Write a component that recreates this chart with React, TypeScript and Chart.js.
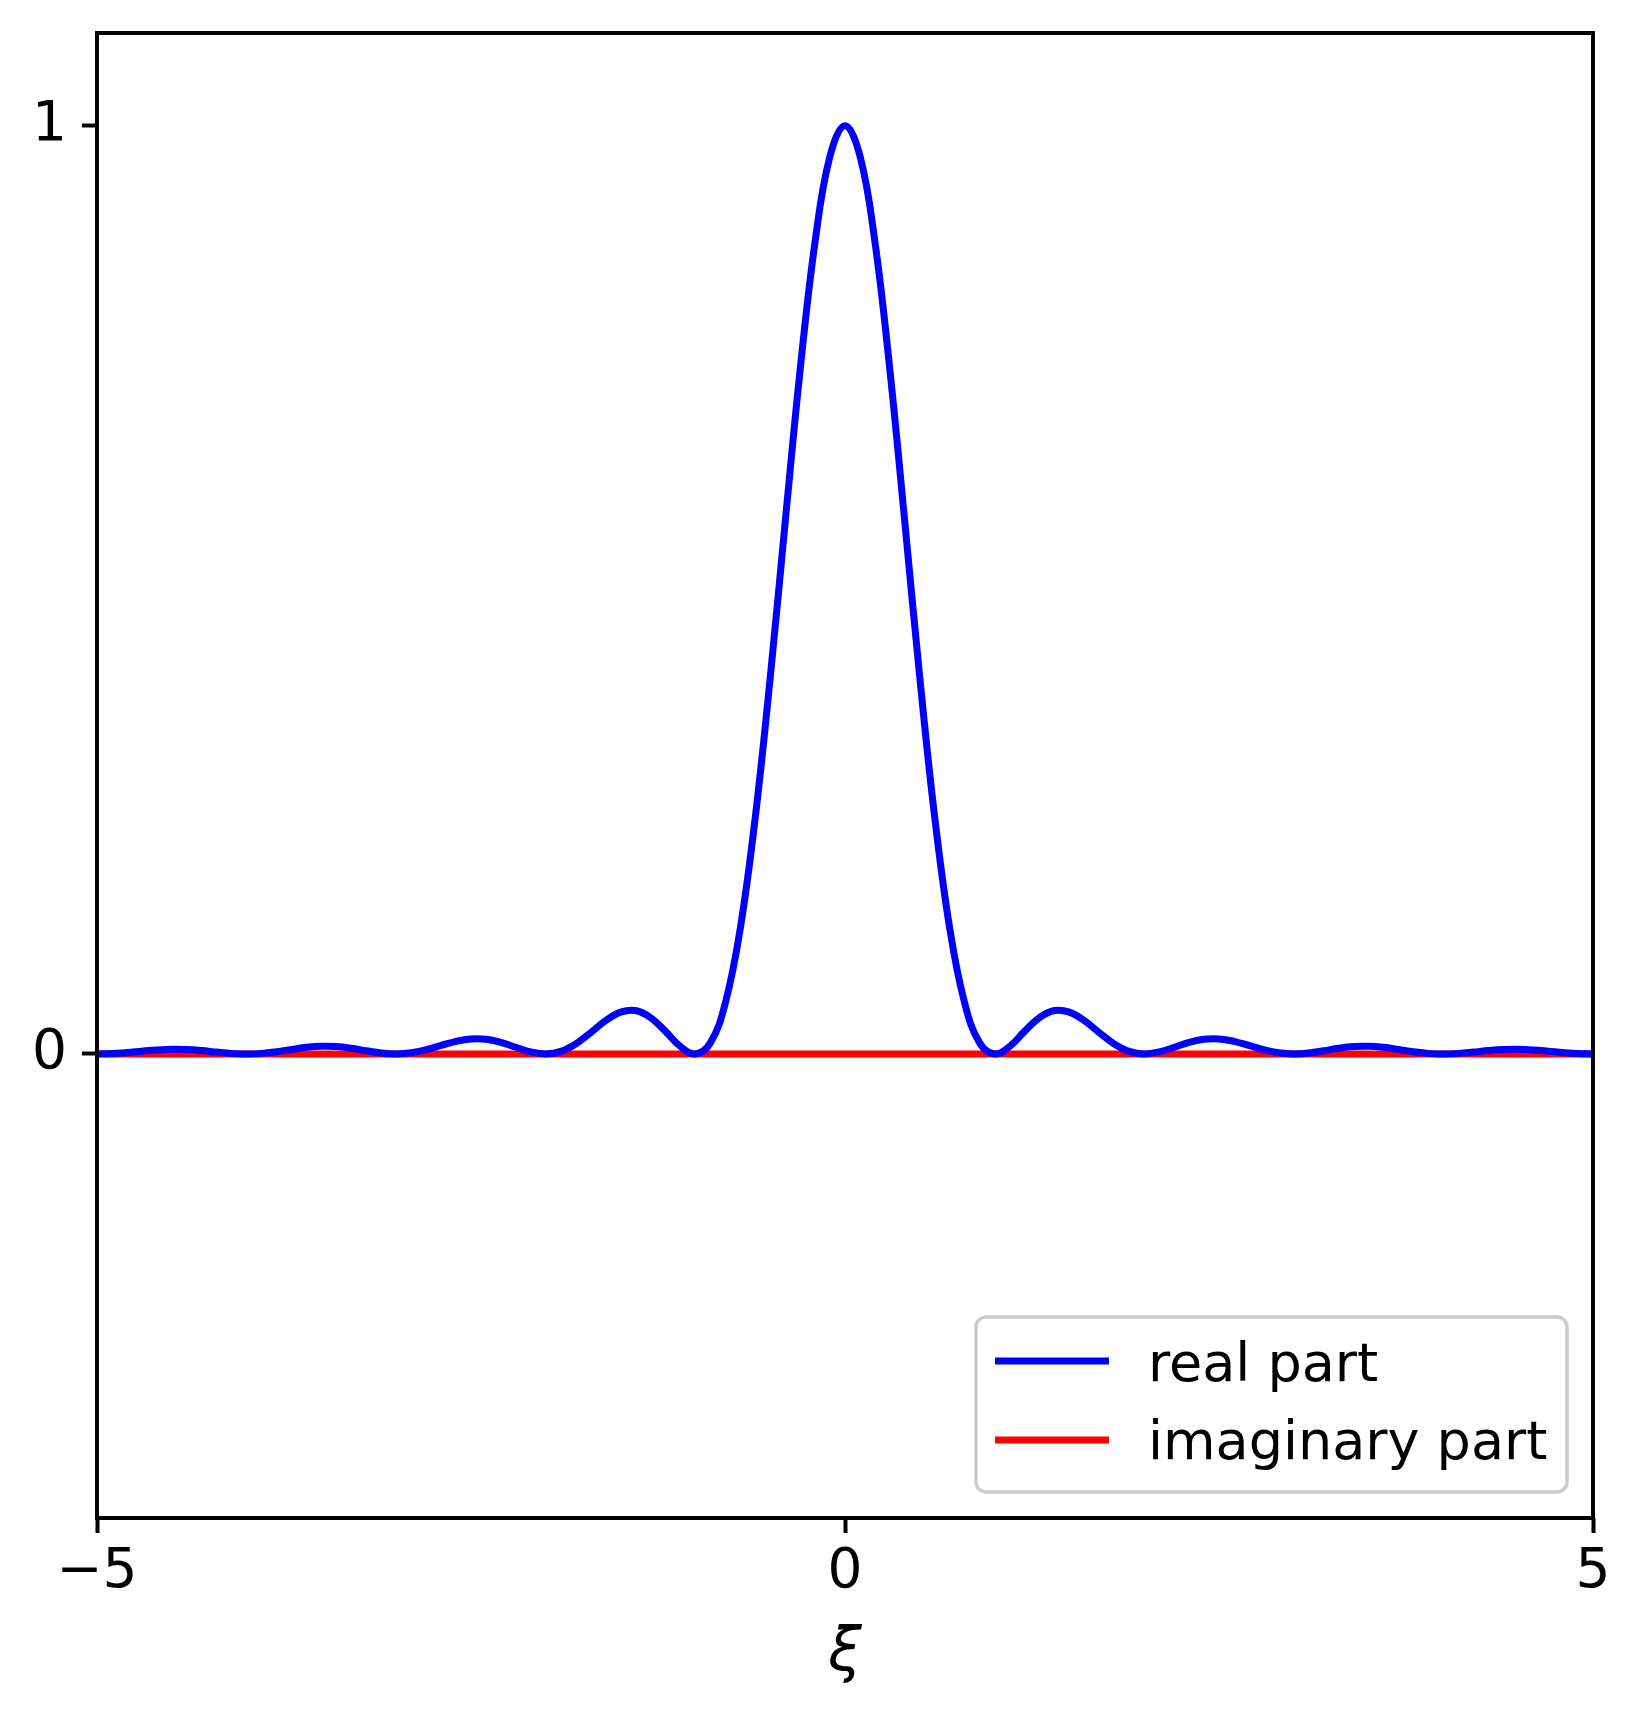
import React, { useEffect, useRef } from "react";
import { Chart, registerables } from "chart.js";

Chart.register(...registerables);

// ξ sample positions
const XI: number[] = [
  -5.0, -4.9, -4.8, -4.7, -4.6, -4.5, -4.4, -4.3, -4.2, -4.1,
  -4.0, -3.9, -3.8, -3.7, -3.6, -3.5, -3.4, -3.3, -3.2, -3.1,
  -3.0, -2.9, -2.8, -2.7, -2.6, -2.5, -2.4, -2.3, -2.2, -2.1,
  -2.0, -1.9, -1.8, -1.7, -1.6, -1.5, -1.4, -1.3, -1.2, -1.1,
  -1.0, -0.9, -0.8, -0.7, -0.6, -0.5, -0.4, -0.3, -0.2, -0.1,
  0.0,
  0.1, 0.2, 0.3, 0.4, 0.5, 0.6, 0.7, 0.8, 0.9, 1.0,
  1.1, 1.2, 1.3, 1.4, 1.5, 1.6, 1.7, 1.8, 1.9, 2.0,
  2.1, 2.2, 2.3, 2.4, 2.5, 2.6, 2.7, 2.8, 2.9, 3.0,
  3.1, 3.2, 3.3, 3.4, 3.5, 3.6, 3.7, 3.8, 3.9, 4.0,
  4.1, 4.2, 4.3, 4.4, 4.5, 4.6, 4.7, 4.8, 4.9, 5.0,
];

// real part values
const REAL_PART: number[] = [
  0.0, 0.0004, 0.0015, 0.003, 0.0043, 0.005, 0.0047, 0.0036, 0.002, 0.0006,
  0.0, 0.0006, 0.0024, 0.0048, 0.0071, 0.0083, 0.0079, 0.0061, 0.0034, 0.001,
  0.0, 0.0012, 0.0045, 0.0091, 0.0136, 0.0162, 0.0159, 0.0125, 0.0072, 0.0022,
  0.0, 0.0027, 0.0108, 0.0229, 0.0358, 0.045, 0.0468, 0.0392, 0.0243, 0.008,
  0.0, 0.0119, 0.0547, 0.1353, 0.2546, 0.4053, 0.5728, 0.7368, 0.8751, 0.9675,
  1.0,
  0.9675, 0.8751, 0.7368, 0.5728, 0.4053, 0.2546, 0.1353, 0.0547, 0.0119, 0.0,
  0.008, 0.0243, 0.0392, 0.0468, 0.045, 0.0358, 0.0229, 0.0108, 0.0027, 0.0,
  0.0022, 0.0072, 0.0125, 0.0159, 0.0162, 0.0136, 0.0091, 0.0045, 0.0012, 0.0,
  0.001, 0.0034, 0.0061, 0.0079, 0.0083, 0.0071, 0.0048, 0.0024, 0.0006, 0.0,
  0.0006, 0.002, 0.0036, 0.0047, 0.005, 0.0043, 0.003, 0.0015, 0.0004, 0.0,
];

// imaginary part values (flat at zero)
const IMAG_PART: number[] = [
  0, 0, 0, 0, 0, 0, 0, 0, 0, 0,
  0, 0, 0, 0, 0, 0, 0, 0, 0, 0,
  0, 0, 0, 0, 0, 0, 0, 0, 0, 0,
  0, 0, 0, 0, 0, 0, 0, 0, 0, 0,
  0, 0, 0, 0, 0, 0, 0, 0, 0, 0,
  0,
  0, 0, 0, 0, 0, 0, 0, 0, 0, 0,
  0, 0, 0, 0, 0, 0, 0, 0, 0, 0,
  0, 0, 0, 0, 0, 0, 0, 0, 0, 0,
  0, 0, 0, 0, 0, 0, 0, 0, 0, 0,
  0, 0, 0, 0, 0, 0, 0, 0, 0, 0,
];

const SERIES_LABELS = ["real part", "imaginary part"];
const SERIES_COLORS = ["#0000ff", "#ff0000"];
const X_TICKS = [-5, 0, 5];
const Y_TICKS = [0, 1];
const X_RANGE = [-5, 5];
const Y_RANGE = [-0.5, 1.1];
const X_TITLE = "ξ";

const FONT = "'DejaVu Sans', 'Liberation Sans', sans-serif";
const W = 1643;
const H = 1714;

const fmt = (v: number) => (v < 0 ? "\u2212" + Math.abs(v) : String(v));

const framePlugin = {
  id: "frame",
  afterDatasetsDraw(chart: any) {
    const { ctx, chartArea: a } = chart;
    ctx.save();
    ctx.strokeStyle = "#000";
    ctx.lineWidth = 4;
    ctx.strokeRect(a.left, a.top, a.right - a.left, a.bottom - a.top);
    ctx.restore();
  },
};

const legendPlugin = {
  id: "mplLegend",
  afterDraw(chart: any) {
    const { ctx, chartArea: a } = chart;
    const bw = 591;
    const bh = 175;
    const right = a.right - 26;
    const bottom = a.bottom - 26;
    const left = right - bw;
    const top = bottom - bh;
    ctx.save();
    ctx.beginPath();
    if (ctx.roundRect) ctx.roundRect(left, top, bw, bh, 10);
    else ctx.rect(left, top, bw, bh);
    ctx.fillStyle = "rgba(255,255,255,0.8)";
    ctx.fill();
    ctx.lineWidth = 3.5;
    ctx.strokeStyle = "#cccccc";
    ctx.stroke();
    const ds = chart.data.datasets;
    const lineYs = [top + 44, top + 123];
    const baseYs = [top + 64, top + 142];
    ds.forEach((d: any, i: number) => {
      ctx.beginPath();
      ctx.strokeStyle = d.borderColor;
      ctx.lineWidth = 7;
      ctx.moveTo(left + 19, lineYs[i]);
      ctx.lineTo(left + 133, lineYs[i]);
      ctx.stroke();
      ctx.fillStyle = "#000";
      ctx.font = `54px ${FONT}`;
      ctx.textAlign = "left";
      ctx.textBaseline = "alphabetic";
      ctx.fillText(d.label, left + 172, baseYs[i]);
    });
    ctx.restore();
  },
};

export default function App() {
  const ref = useRef<HTMLCanvasElement | null>(null);

  useEffect(() => {
    if (!ref.current) return;
    const chart = new Chart(ref.current, {
      type: "line",
      data: {
        datasets: [
          {
            label: SERIES_LABELS[0],
            data: XI.map((x, i) => ({ x, y: REAL_PART[i] })),
            borderColor: SERIES_COLORS[0],
            backgroundColor: SERIES_COLORS[0],
            borderWidth: 7,
            pointRadius: 0,
            tension: 0.4,
            fill: false,
          },
          {
            label: SERIES_LABELS[1],
            data: XI.map((x, i) => ({ x, y: IMAG_PART[i] })),
            borderColor: SERIES_COLORS[1],
            backgroundColor: SERIES_COLORS[1],
            borderWidth: 7,
            pointRadius: 0,
            fill: false,
          },
        ],
      },
      options: {
        responsive: false,
        animation: false,
        devicePixelRatio: 1,
        layout: { padding: { top: 33, right: 50, left: 0, bottom: 0 } },
        plugins: {
          legend: { display: false },
          tooltip: { enabled: false },
        },
        scales: {
          x: {
            type: "linear",
            min: X_RANGE[0],
            max: X_RANGE[1],
            afterFit: (s: any) => {
              s.height = 196;
              s.paddingLeft = 0;
              s.paddingRight = 0;
            },
            afterBuildTicks: (s: any) => {
              s.ticks = X_TICKS.map((v) => ({ value: v }));
            },
            ticks: {
              callback: (v: any) => fmt(Number(v)),
              font: { family: FONT, size: 55 },
              color: "#000",
              padding: 7,
              maxRotation: 0,
              autoSkip: false,
            },
            grid: {
              display: true,
              drawOnChartArea: false,
              drawTicks: true,
              tickLength: 15,
              tickWidth: 4,
              tickColor: "#000",
            },
            border: { display: false },
            title: {
              display: true,
              text: X_TITLE,
              font: { family: FONT, size: 60, style: "italic" },
              color: "#000",
              padding: { top: 0, bottom: 24 },
            },
          },
          y: {
            type: "linear",
            min: Y_RANGE[0],
            max: Y_RANGE[1],
            afterFit: (s: any) => {
              s.width = 97;
              s.paddingTop = 0;
              s.paddingBottom = 0;
            },
            afterBuildTicks: (s: any) => {
              s.ticks = Y_TICKS.map((v) => ({ value: v }));
            },
            ticks: {
              callback: (v: any) => fmt(Number(v)),
              font: { family: FONT, size: 55 },
              color: "#000",
              padding: 15,
              autoSkip: false,
            },
            grid: {
              display: true,
              drawOnChartArea: false,
              drawTicks: true,
              tickLength: 15,
              tickWidth: 4,
              tickColor: "#000",
            },
            border: { display: false },
          },
        },
      },
      plugins: [framePlugin, legendPlugin],
    } as any);
    return () => chart.destroy();
  }, []);

  return (
    <div style={{ position: "absolute", left: 0, top: 0, width: W, height: H, background: "#fff" }}>
      <canvas ref={ref} width={W} height={H} style={{ width: W, height: H, display: "block" }} />
    </div>
  );
}
